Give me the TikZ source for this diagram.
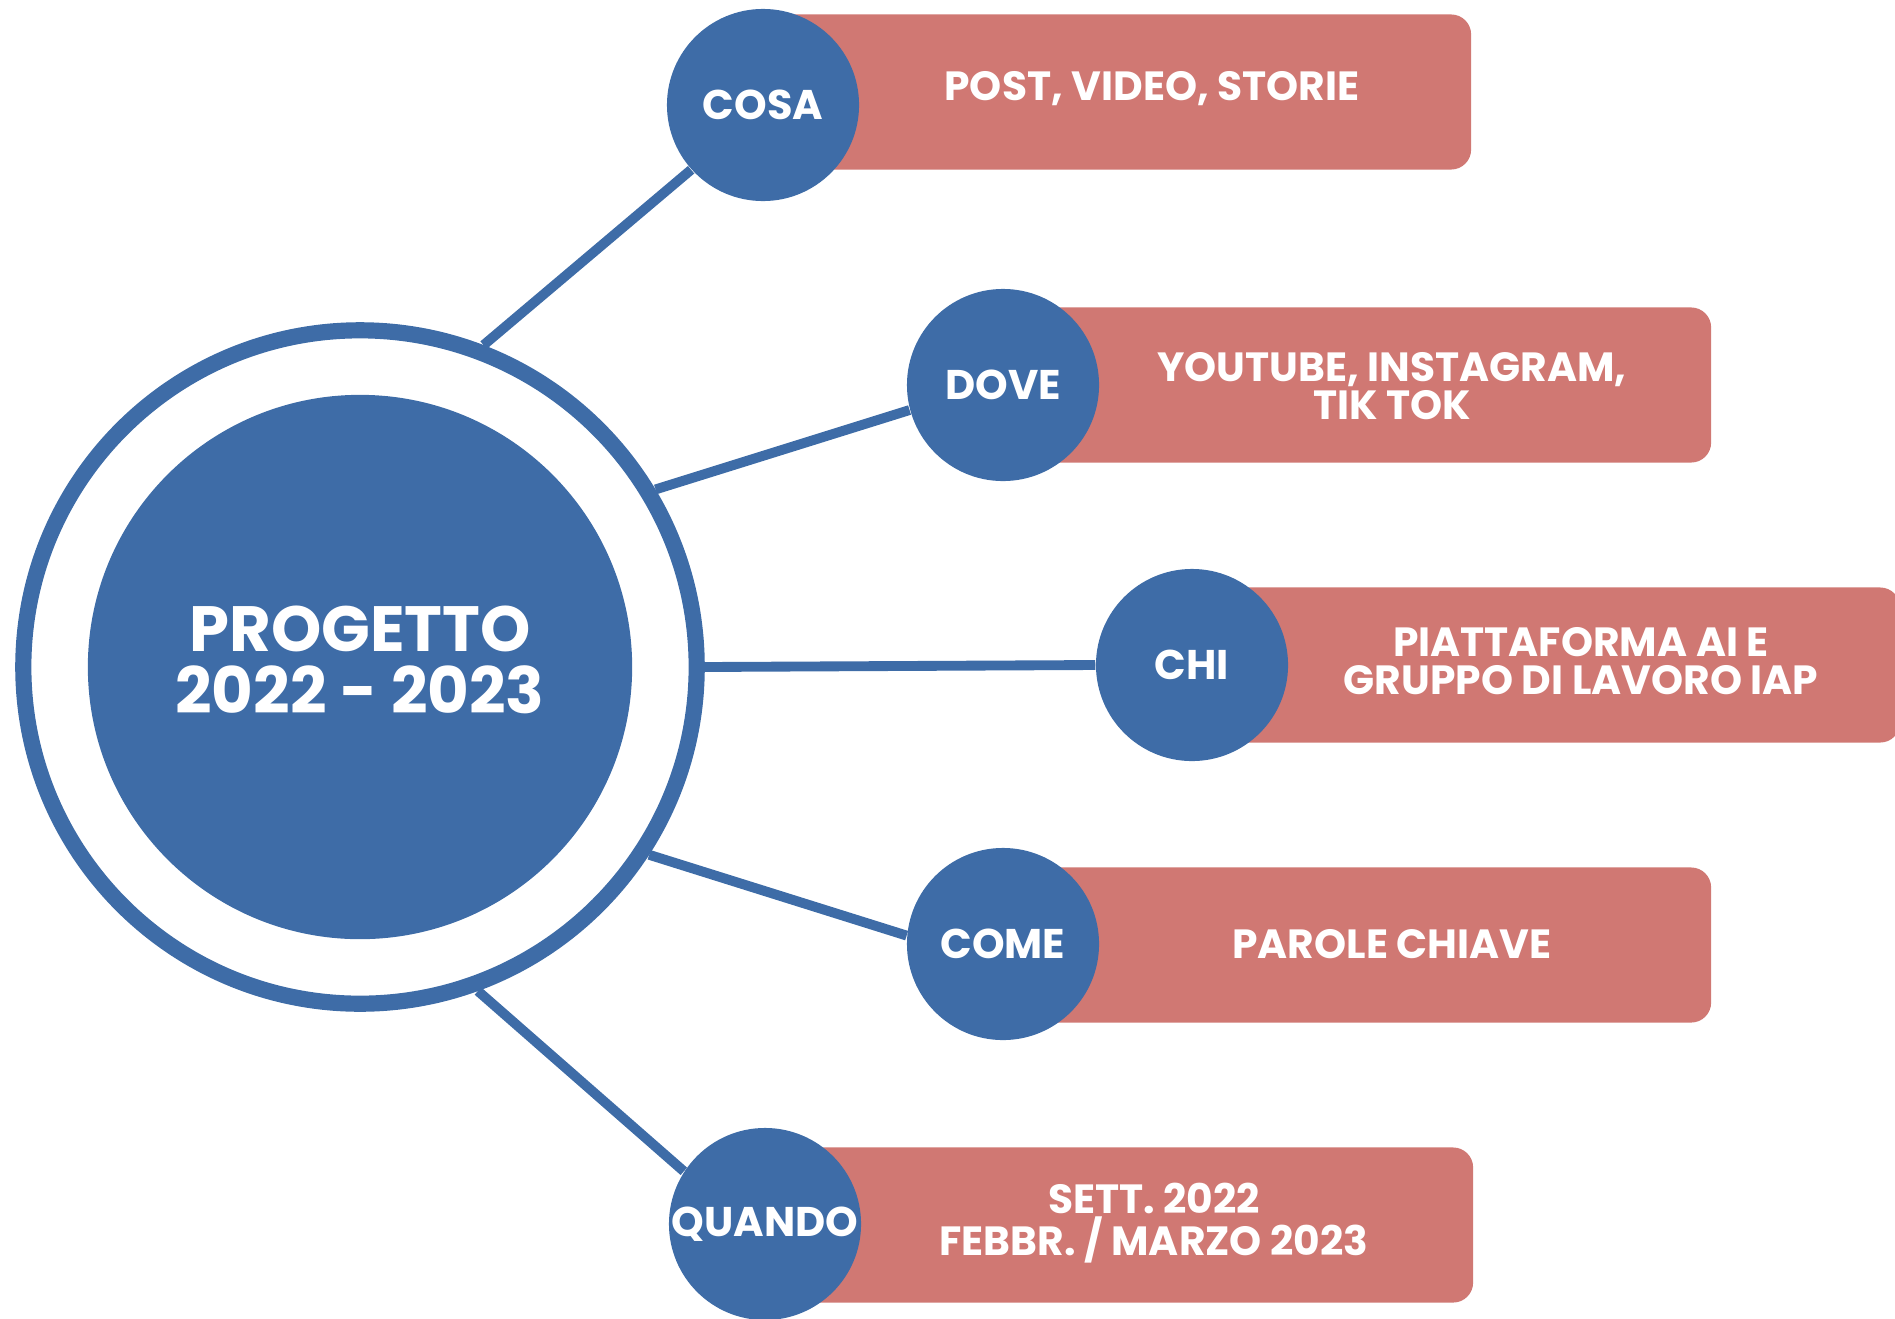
\documentclass[tikz,border=0pt]{standalone}
\usepackage{fontspec}
\setmainfont{Poppins}
\usepackage{tikz}
\usetikzlibrary{
  backgrounds
}
\definecolor{progBlue}{RGB}{62,108,167}
\definecolor{progRose}{RGB}{208,120,115}

\tikzset{
  hub/.style={circle, fill=progBlue, inner sep=0pt, minimum size=1.92cm,
    text=white, font=\bfseries\fontsize{11.8}{12}\selectfont},
  tag/.style={rounded corners=0.2cm, fill=progRose, inner sep=0pt,
    minimum width=7.07cm, minimum height=1.55cm, anchor=west},
  tagtext/.style={text=white, align=center,
    font=\bfseries\fontsize{11.6}{10.7}\selectfont},
  spoke/.style={progBlue, line width=2.8pt}
}

\begin{document}
\begin{tikzpicture}[x=0.01cm, y=-0.01cm]
  \useasboundingbox (0,0) rectangle (1895,1318);

  %% --- Central project circle: ring and filled core ---
  \node[circle, draw=progBlue, line width=4.6pt, inner sep=0pt,
    minimum size=6.73cm] (ring) at (360,667) {};
  \node[circle, fill=progBlue, inner sep=0pt, minimum size=5.44cm]
    (core) at (360,667) {};
  \node[text=white, align=center, font=\bfseries\fontsize{18.2}{17.6}\selectfont]
    (coretxt) at (360,660) {PROGETTO\\2022 - 2023};

  %% --- Five question hubs ---
  \node[hub] (cosa)   at (763,105)  {COSA};
  \node[hub] (dove)   at (1003,385) {DOVE};
  \node[hub] (chi)    at (1192,665) {CHI};
  \node[hub] (come)   at (1003,944) {COME};
  \node[hub] (quando) at (765,1224) {QUANDO};

  %% --- Answer boxes, tucked behind the hubs ---
  \begin{scope}[on background layer]
    \node[tag] (cosabox)   at (763,92)   {};
    \node[tag] (dovebox)   at (1003,385) {};
    \node[tag] (chibox)    at (1192,665) {};
    \node[tag] (comebox)   at (1003,945) {};
    \node[tag] (quandobox) at (765,1225) {};
  \end{scope}

  \node[tagtext] (cosatxt)   at (1152,89)   {POST, VIDEO, STORIE};
  \node[tagtext] (dovetxt)   at (1392,386)  {YOUTUBE, INSTAGRAM,\\TIK TOK};
  \node[tagtext] (chitxt)    at (1581,661)  {PIATTAFORMA AI E\\GRUPPO DI LAVORO IAP};
  \node[tagtext] (cometxt)   at (1392,944)  {PAROLE CHIAVE};
  \node[tagtext] (quandotxt) at (1154,1223) {SETT. 2022\\FEBBR. / MARZO 2023};

  %% --- Spokes from the ring to the hubs ---
  \draw[spoke] (ring.69)  -- (cosa.222);
  \draw[spoke] (ring.31)  -- (dove.195);
  \draw[spoke] (ring.0)   -- (chi.180);
  \draw[spoke] (ring.-33) -- (come.175);
  \draw[spoke] (ring.-70) -- (quando.147);
\end{tikzpicture}
\end{document}
